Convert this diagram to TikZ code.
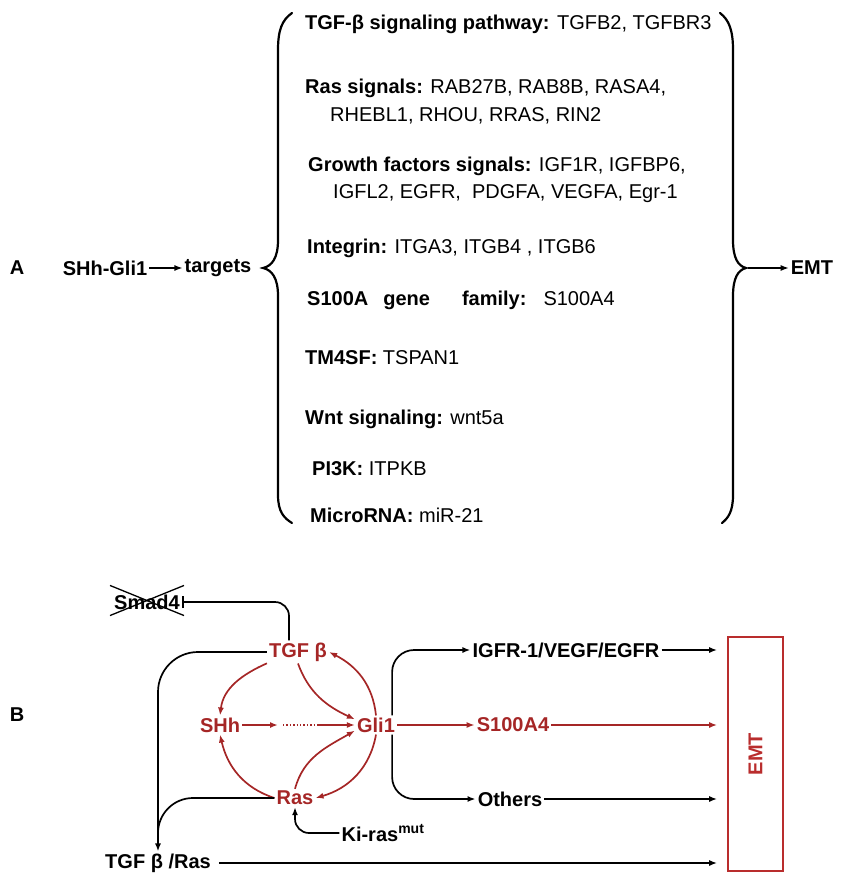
\documentclass[tikz,border=0pt]{standalone}
\usepackage{fontspec}
\setmainfont{Liberation Sans}
\usetikzlibrary{arrows.meta}
\definecolor{gliRed}{RGB}{165,38,38}
\definecolor{emtRed}{RGB}{185,45,45}

\begin{document}
\begin{tikzpicture}[x=1pt, y=-1pt, font=\fontsize{20}{24}\selectfont,
  lbl/.style={inner sep=2pt, font=\fontsize{20}{24}\selectfont\bfseries},
  hub/.style={lbl, text=gliRed},
  gene/.style={anchor=base west, inner sep=0pt},
  arr/.style={line width=1.7pt, -{Latex[length=8pt,width=6pt]}},
  redarr/.style={arr, draw=gliRed},
  brace/.style={line width=2.2pt, line cap=round}]
\useasboundingbox (0,0) rectangle (842,874);
% panel A: SHh-Gli1 targets
\node[lbl] (labA) at (17,268) {A};
\node[lbl] (shhgli) at (105,268) {SHh-Gli1};
\node[lbl] (targets) at (218,268) {targets};
\draw[arr, line width=1.3pt] (shhgli) -- (targets);
\draw[brace] (292,13) .. controls (282,20) and (278,30) .. (278,50) -- (278,240)
  .. controls (278,258) and (272,266) .. (263,268) .. controls (272,270) and (278,278) .. (278,296)
  -- (278,495) .. controls (278,512) and (284,518) .. (292,523);
\draw[brace] (720,13) .. controls (729,20) and (733,30) .. (733,50) -- (733,240)
  .. controls (733,258) and (738,266) .. (746,268) .. controls (738,270) and (733,278) .. (733,296)
  -- (733,495) .. controls (733,512) and (728,518) .. (722,523);
\node[gene] (tgfline) at (305,30) {\textbf{TGF-β signaling pathway:} TGFB2, TGFBR3};
\node[gene] (rasline) at (305,94) {\textbf{Ras signals:} RAB27B, RAB8B, RASA4,};
\node[gene] (rasline2) at (330,122) {RHEBL1, RHOU, RRAS, RIN2};
\node[gene] (gfline) at (308,172) {\textbf{Growth factors signals:} IGF1R, IGFBP6,};
\node[gene] (gfline2) at (333,199) {IGFL2, EGFR,\ \ PDGFA, VEGFA, Egr-1};
\node[gene] (itgline) at (307,254) {\textbf{Integrin:} ITGA3, ITGB4 , ITGB6};
\node[gene] (s100line) at (307,305) {\textbf{S100A\hspace{15pt}gene\hspace{32pt}family:}\hspace{17pt}S100A4};
\node[gene] (tmline) at (305,364) {\textbf{TM4SF:} TSPAN1};
\node[gene] (wntline) at (305,424) {\textbf{Wnt signaling:} wnt5a};
\node[gene] (piline) at (312,475) {\textbf{PI3K:} ITPKB};
\node[gene] (mirline) at (310,522) {\textbf{MicroRNA:} miR-21};
\coordinate (tipR) at (748,268);
\node[lbl] (emtA) at (812,268) {EMT};
\draw[arr, line width=1.3pt] (tipR) -- (emtA);
% panel B: the Gli1 loop
\node[lbl] (labB) at (17,715) {B};
\node[lbl] (smad) at (147,602) {Smad4};
\node[hub] (tgfb) at (298,652) {TGF β};
\node[hub] (shh) at (220,725) {SHh};
\node[hub] (gli) at (376,725) {Gli1};
\node[hub] (ras) at (295,798) {Ras};
\node[lbl] (kiras) at (383,833) {Ki-ras\textsuperscript{mut}};
\node[lbl] (igfr) at (566,650) {IGFR-1/VEGF/EGFR};
\node[hub] (s100) at (513,725) {S100A4};
\node[lbl] (others) at (510,799) {Others};
\node[lbl] (tgfras) at (158,863) {TGF β /Ras};
\node[draw=emtRed, line width=1.6pt, minimum width=55pt, minimum height=234pt,
  text=emtRed, font=\fontsize{20}{24}\selectfont\bfseries] (emt) at (755.5,754) {\rotatebox{90}{EMT}};
\draw[line width=1.3pt] ([shift={(-2,-7)}]smad.north west) -- ([shift={(2,4)}]smad.south east)
  ([shift={(-2,4)}]smad.south west) -- ([shift={(2,-7)}]smad.north east);
\draw[line width=1.7pt, -{Bar[width=12pt,line width=1.8pt]}, rounded corners=14pt] ([xshift=-9pt]tgfb.north) |- (smad.east);
\draw[redarr] (tgfb.200) to[out=204, in=83] (shh.north);
\draw[redarr] (ras.west) to[out=162, in=-77] (shh.south);
\draw[redarr] (gli.north) to[out=96, in=-27] (tgfb.east);
\draw[redarr] (gli.south) to[out=260, in=16] (ras.east);
\draw[redarr] (tgfb.south) to[out=-70, in=155] (gli.165);
\draw[redarr] (ras.north) to[out=75, in=210] (gli.195);
\coordinate (dotsL) at (278,725);
\coordinate (dotsR) at (318,725);
\draw[redarr] (shh.east) -- (dotsL);
\draw[gliRed, line width=1.4pt, dotted, shorten <=5pt] (dotsL) -- (dotsR);
\draw[redarr] (dotsR) -- (gli.west);
\draw[arr, rounded corners=40pt] (tgfb.west) -| (tgfras.north);
\draw[line width=1.7pt, rounded corners=35pt, shorten >=8pt] (ras.west) -| (tgfras.north);
\draw[arr, rounded corners=14pt] (kiras.west) -| (ras.south);
% Gli1 outputs
\draw[arr, rounded corners=22pt] ([xshift=-5pt]gli.north east) |- (igfr.west);
\draw[redarr] (gli.east) -- (s100.west);
\draw[arr, rounded corners=22pt] ([xshift=-5pt]gli.south east) |- (others.west);
\draw[arr, shorten >=10pt] (igfr.east) -- (igfr.east -| emt.west);
\draw[redarr, shorten >=10pt] (s100.east) -- (s100.east -| emt.west);
\draw[arr, shorten >=10pt] (others.east) -- (others.east -| emt.west);
\draw[arr, shorten <=6pt, shorten >=10pt] (tgfras.east) -- (tgfras.east -| emt.west);
\end{tikzpicture}
\end{document}
